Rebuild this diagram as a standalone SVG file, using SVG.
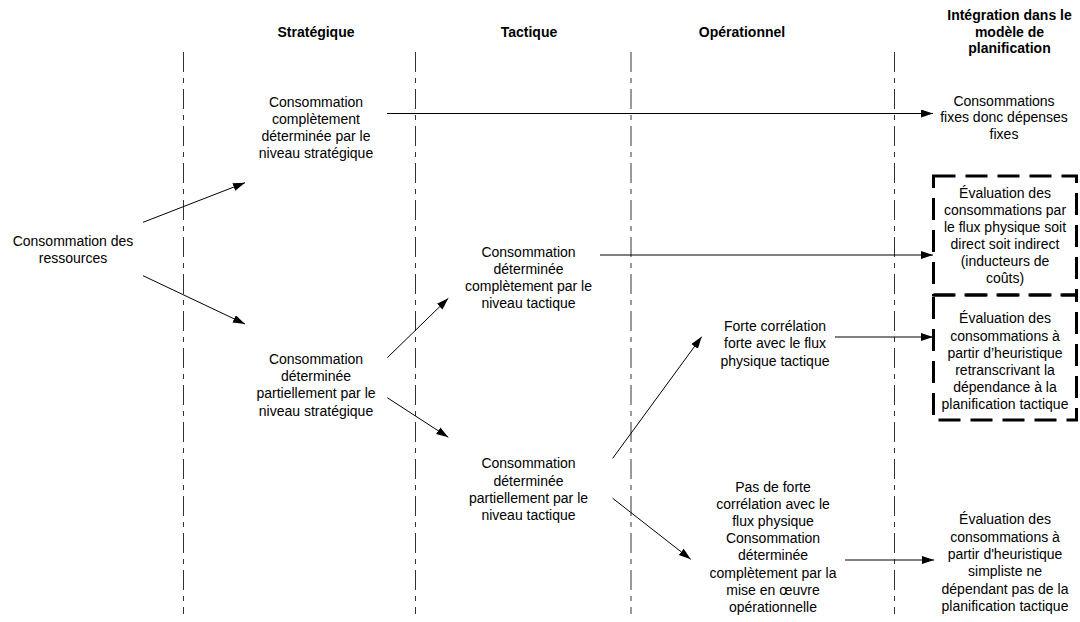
<svg xmlns="http://www.w3.org/2000/svg" width="1080" height="622" viewBox="0 0 1080 622">
<defs>
<marker id="ah" markerUnits="userSpaceOnUse" markerWidth="13" markerHeight="9" refX="12" refY="4" orient="auto">
<path d="M0,0 L12,4 L0,8 z" fill="#000"/>
</marker>
<style>
.t{font-family:"Liberation Sans",Arial,sans-serif;font-size:14px;fill:#000;text-anchor:middle}
.h{font-family:"Liberation Sans",Arial,sans-serif;font-size:14px;font-weight:bold;fill:#000;text-anchor:middle}
.sep{stroke:#333;stroke-width:1;stroke-dasharray:20 6 5 6;fill:none}
.c{stroke:#000;stroke-width:1;fill:none;marker-end:url(#ah)}
.box{fill:none;stroke:#000;stroke-width:3;stroke-dasharray:22 10}
</style>
</defs>
<rect width="1080" height="622" fill="#fff"/>
<g id="columns">
<line class="sep" x1="183.5" y1="52" x2="183.5" y2="614"/>
<line class="sep" x1="415.5" y1="52" x2="415.5" y2="614"/>
<line class="sep" x1="631" y1="52" x2="631" y2="614"/>
<line class="sep" x1="894.5" y1="52" x2="894.5" y2="614"/>
</g>
<g id="headers">
<text class="h" x="316" y="36.5">Stratégique</text>
<text class="h" x="529" y="36.5">Tactique</text>
<text class="h" x="742" y="36.5">Opérationnel</text>
<text class="h" x="1009.5" y="20">Intégration dans le</text>
<text class="h" x="1009.5" y="36.5">modèle de</text>
<text class="h" x="1009.5" y="53">planification</text>
</g>
<g id="connectors">
<line class="c" x1="387" y1="113.5" x2="933" y2="113.5"/>
<line class="c" x1="143" y1="222.3" x2="245" y2="182.7"/>
<line class="c" x1="143" y1="275.7" x2="245" y2="324"/>
<line class="c" x1="387.3" y1="357.7" x2="448.3" y2="298.3"/>
<line class="c" x1="387.3" y1="397.7" x2="448.3" y2="437.3"/>
<line class="c" x1="600" y1="255" x2="933" y2="255"/>
<line class="c" x1="612.7" y1="458.3" x2="701.7" y2="336.7"/>
<line class="c" x1="612.7" y1="498.3" x2="690.7" y2="559.3"/>
<line class="c" x1="835" y1="337" x2="933" y2="337"/>
<line class="c" x1="845" y1="560" x2="934" y2="560"/>
</g>
<g id="n-ressources">
<text class="t" x="73" y="246">Consommation des</text>
<text class="t" x="73" y="263.3">ressources</text>
</g>
<g id="n-strat-complet">
<text class="t" x="316" y="106.5">Consommation</text>
<text class="t" x="316" y="123.8">complètement</text>
<text class="t" x="316" y="141.1">déterminée par le</text>
<text class="t" x="316" y="158.4">niveau stratégique</text>
</g>
<g id="n-strat-partiel">
<text class="t" x="316" y="363.7">Consommation</text>
<text class="t" x="316" y="381">déterminée</text>
<text class="t" x="316" y="398.3">partiellement par le</text>
<text class="t" x="316" y="415.6">niveau stratégique</text>
</g>
<g id="n-tact-complet">
<text class="t" x="528.5" y="256.5">Consommation</text>
<text class="t" x="528.5" y="273.8">déterminée</text>
<text class="t" x="528.5" y="291.1">complètement par le</text>
<text class="t" x="528.5" y="308.4">niveau tactique</text>
</g>
<g id="n-tact-partiel">
<text class="t" x="528.5" y="468.3">Consommation</text>
<text class="t" x="528.5" y="485.6">déterminée</text>
<text class="t" x="528.5" y="502.9">partiellement par le</text>
<text class="t" x="528.5" y="520.2">niveau tactique</text>
</g>
<g id="n-forte">
<text class="t" x="775" y="331">Forte corrélation</text>
<text class="t" x="775" y="348.3">forte avec le flux</text>
<text class="t" x="775" y="365.6">physique tactique</text>
</g>
<g id="n-pasforte">
<text class="t" x="773" y="491.5">Pas de forte</text>
<text class="t" x="773" y="508.7">corrélation avec le</text>
<text class="t" x="773" y="525.9">flux physique</text>
<text class="t" x="773" y="543.1">Consommation</text>
<text class="t" x="773" y="560.3">déterminée</text>
<text class="t" x="773" y="577.5">complètement par la</text>
<text class="t" x="773" y="594.7">mise en œuvre</text>
<text class="t" x="773" y="611.9">opérationnelle</text>
</g>
<g id="n-fixes">
<text class="t" x="1004" y="105.5">Consommations</text>
<text class="t" x="1004" y="122.3">fixes donc dépenses</text>
<text class="t" x="1004" y="139">fixes</text>
</g>
<g id="n-flux">
<rect class="box" x="933.5" y="176" width="143" height="119"/>
<text class="t" x="1005" y="198.3">Évaluation des</text>
<text class="t" x="1005" y="215.3">consommations par</text>
<text class="t" x="1005" y="232.3">le flux physique soit</text>
<text class="t" x="1005" y="249.3">direct soit indirect</text>
<text class="t" x="1005" y="266.3">(inducteurs de</text>
<text class="t" x="1005" y="283.3">coûts)</text>
</g>
<g id="n-heur-tact">
<rect class="box" x="933.5" y="295" width="143" height="125"/>
<text class="t" x="1005" y="323.3">Évaluation des</text>
<text class="t" x="1005" y="340.5">consommations à</text>
<text class="t" x="1005" y="357.7">partir d’heuristique</text>
<text class="t" x="1005" y="374.9">retranscrivant la</text>
<text class="t" x="1005" y="392.1">dépendance à la</text>
<text class="t" x="1005" y="409.3">planification tactique</text>
</g>
<g id="n-heur-simple">
<text class="t" x="1005" y="524.3">Évaluation des</text>
<text class="t" x="1005" y="541.6">consommations à</text>
<text class="t" x="1005" y="558.9">partir d'heuristique</text>
<text class="t" x="1005" y="576.2">simpliste ne</text>
<text class="t" x="1005" y="593.5">dépendant pas de la</text>
<text class="t" x="1005" y="610.8">planification tactique</text>
</g>
</svg>
